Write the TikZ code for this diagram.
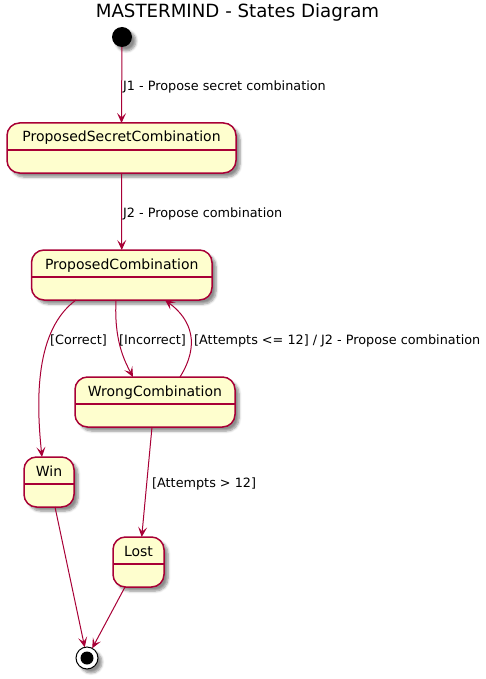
\documentclass[tikz,border=0pt]{standalone}
\usepackage{fontspec}
\setmainfont{DejaVu Sans}
\usetikzlibrary{arrows.meta,calc,shadows.blur}
\definecolor{pborder}{HTML}{A80036}
\definecolor{pfill}{HTML}{FEFECE}
\begin{document}
\begin{tikzpicture}[x=1pt,y=-1pt,
  shad/.style={blur shadow={shadow xshift=4pt, shadow yshift=-4pt, shadow blur steps=6, shadow blur radius=2.5pt, shadow opacity=45}},
  statebox/.style={draw=pborder, fill=pfill, line width=1.5pt, rounded corners=12.5pt,
    minimum height=50pt, inner sep=0pt, outer sep=0pt, shad},
  divline/.style={draw=pborder, line width=1.5pt},
  nm/.style={font=\fontsize{14}{16}\selectfont, inner sep=0pt, anchor=base},
  lbl/.style={font=\fontsize{12.8}{15}\selectfont, inner sep=0pt, anchor=base west},
  trans/.style={draw=pborder, line width=1pt, -{Stealth[length=10pt,width=9pt,inset=4.5pt]}},
  ]
\useasboundingbox (0,0) rectangle (486,679);

% title
\node[font=\fontsize{18.2}{20}\selectfont, inner sep=0pt, anchor=base] (title) at (237.5,17.5) {MASTERMIND - States Diagram};

% initial state
\node[circle, fill=black, minimum size=20pt, inner sep=0pt, outer sep=0pt, shad] (init) at (122,37) {};

% states
\node[statebox, minimum width=229pt] (psc) at (121.5,148) {};
\node[nm] (psct) at ($(psc.north)+(0,19)$) {ProposedSecretCombination};
\draw[divline] ($(psc.north west)+(0,27)$) -- ($(psc.north east)+(0,27)$);

\node[statebox, minimum width=180.5pt] (pc) at (121.75,275) {};
\node[nm] (pct) at ($(pc.north)+(0,19)$) {ProposedCombination};
\draw[divline] ($(pc.north west)+(0,27)$) -- ($(pc.north east)+(0,27)$);

\node[statebox, minimum width=160pt] (wc) at (155,402) {};
\node[nm] (wct) at ($(wc.north)+(0,19)$) {WrongCombination};
\draw[divline] ($(wc.north west)+(0,27)$) -- ($(wc.north east)+(0,27)$);

\node[statebox, minimum width=50pt] (win) at (49,482) {};
\node[nm] (wint) at ($(win.north)+(0,19)$) {Win};
\draw[divline] ($(win.north west)+(0,27)$) -- ($(win.north east)+(0,27)$);

\node[statebox, minimum width=51pt] (lost) at (138.5,562) {};
\node[nm] (lostt) at ($(lost.north)+(0,19)$) {Lost};
\draw[divline] ($(lost.north west)+(0,27)$) -- ($(lost.north east)+(0,27)$);

% final state
\node[circle, draw=black, fill=white, line width=1pt, minimum size=22pt, inner sep=0pt, outer sep=0pt, shad] (fin) at (87,658) {};
\node[circle, fill=black, minimum size=13pt, inner sep=0pt] (fini) at (fin.center) {};

% transitions
\draw[trans] (init) -- (psc.north);
\node[lbl] (l1) at (123,90.5) {J1 - Propose secret combination};

\draw[trans] (psc.south) -- (pc.north);
\node[lbl] (l2) at (123,217.5) {J2 - Propose combination};

\coordinate (pcA) at ($(pc.south west)+(44.5,0)$);
\coordinate (winN) at ($(win.north west)+(18,0)$);
\draw[trans] (pcA) .. controls (35,330) and (36,400) .. (winN);
\node[lbl] (l3) at (50,344) {[Correct]};

\coordinate (pcB) at ($(pc.south west)+(84.5,0)$);
\coordinate (wcN) at ($(wc.north west)+(58,0)$);
\draw[trans] (pcB) .. controls (114,340) and (124,360) .. (wcN);
\node[lbl] (l4) at (119,344) {[Incorrect]};

\coordinate (wcA) at ($(wc.north west)+(105,0)$);
\coordinate (pcC) at ($(pc.south west)+(133.5,0)$);
\draw[trans] (wcA) .. controls (200,345) and (192,320) .. (pcC);
\node[lbl] (l5) at (194,344) {[Attempts <= 12] / J2 - Propose combination};

\coordinate (wcS) at ($(wc.south west)+(77,0)$);
\coordinate (lostN) at ($(lost.north west)+(28.7,0)$);
\draw[trans] (wcS) -- (lostN);
\node[lbl] (l6) at (152,487) {[Attempts > 12]};

\coordinate (winS) at ($(win.south west)+(31,0)$);
\draw[trans] (winS) -- (fin);

\coordinate (lostS) at ($(lost.south west)+(12,0)$);
\draw[trans] (lostS) -- (fin);
\end{tikzpicture}
\end{document}
